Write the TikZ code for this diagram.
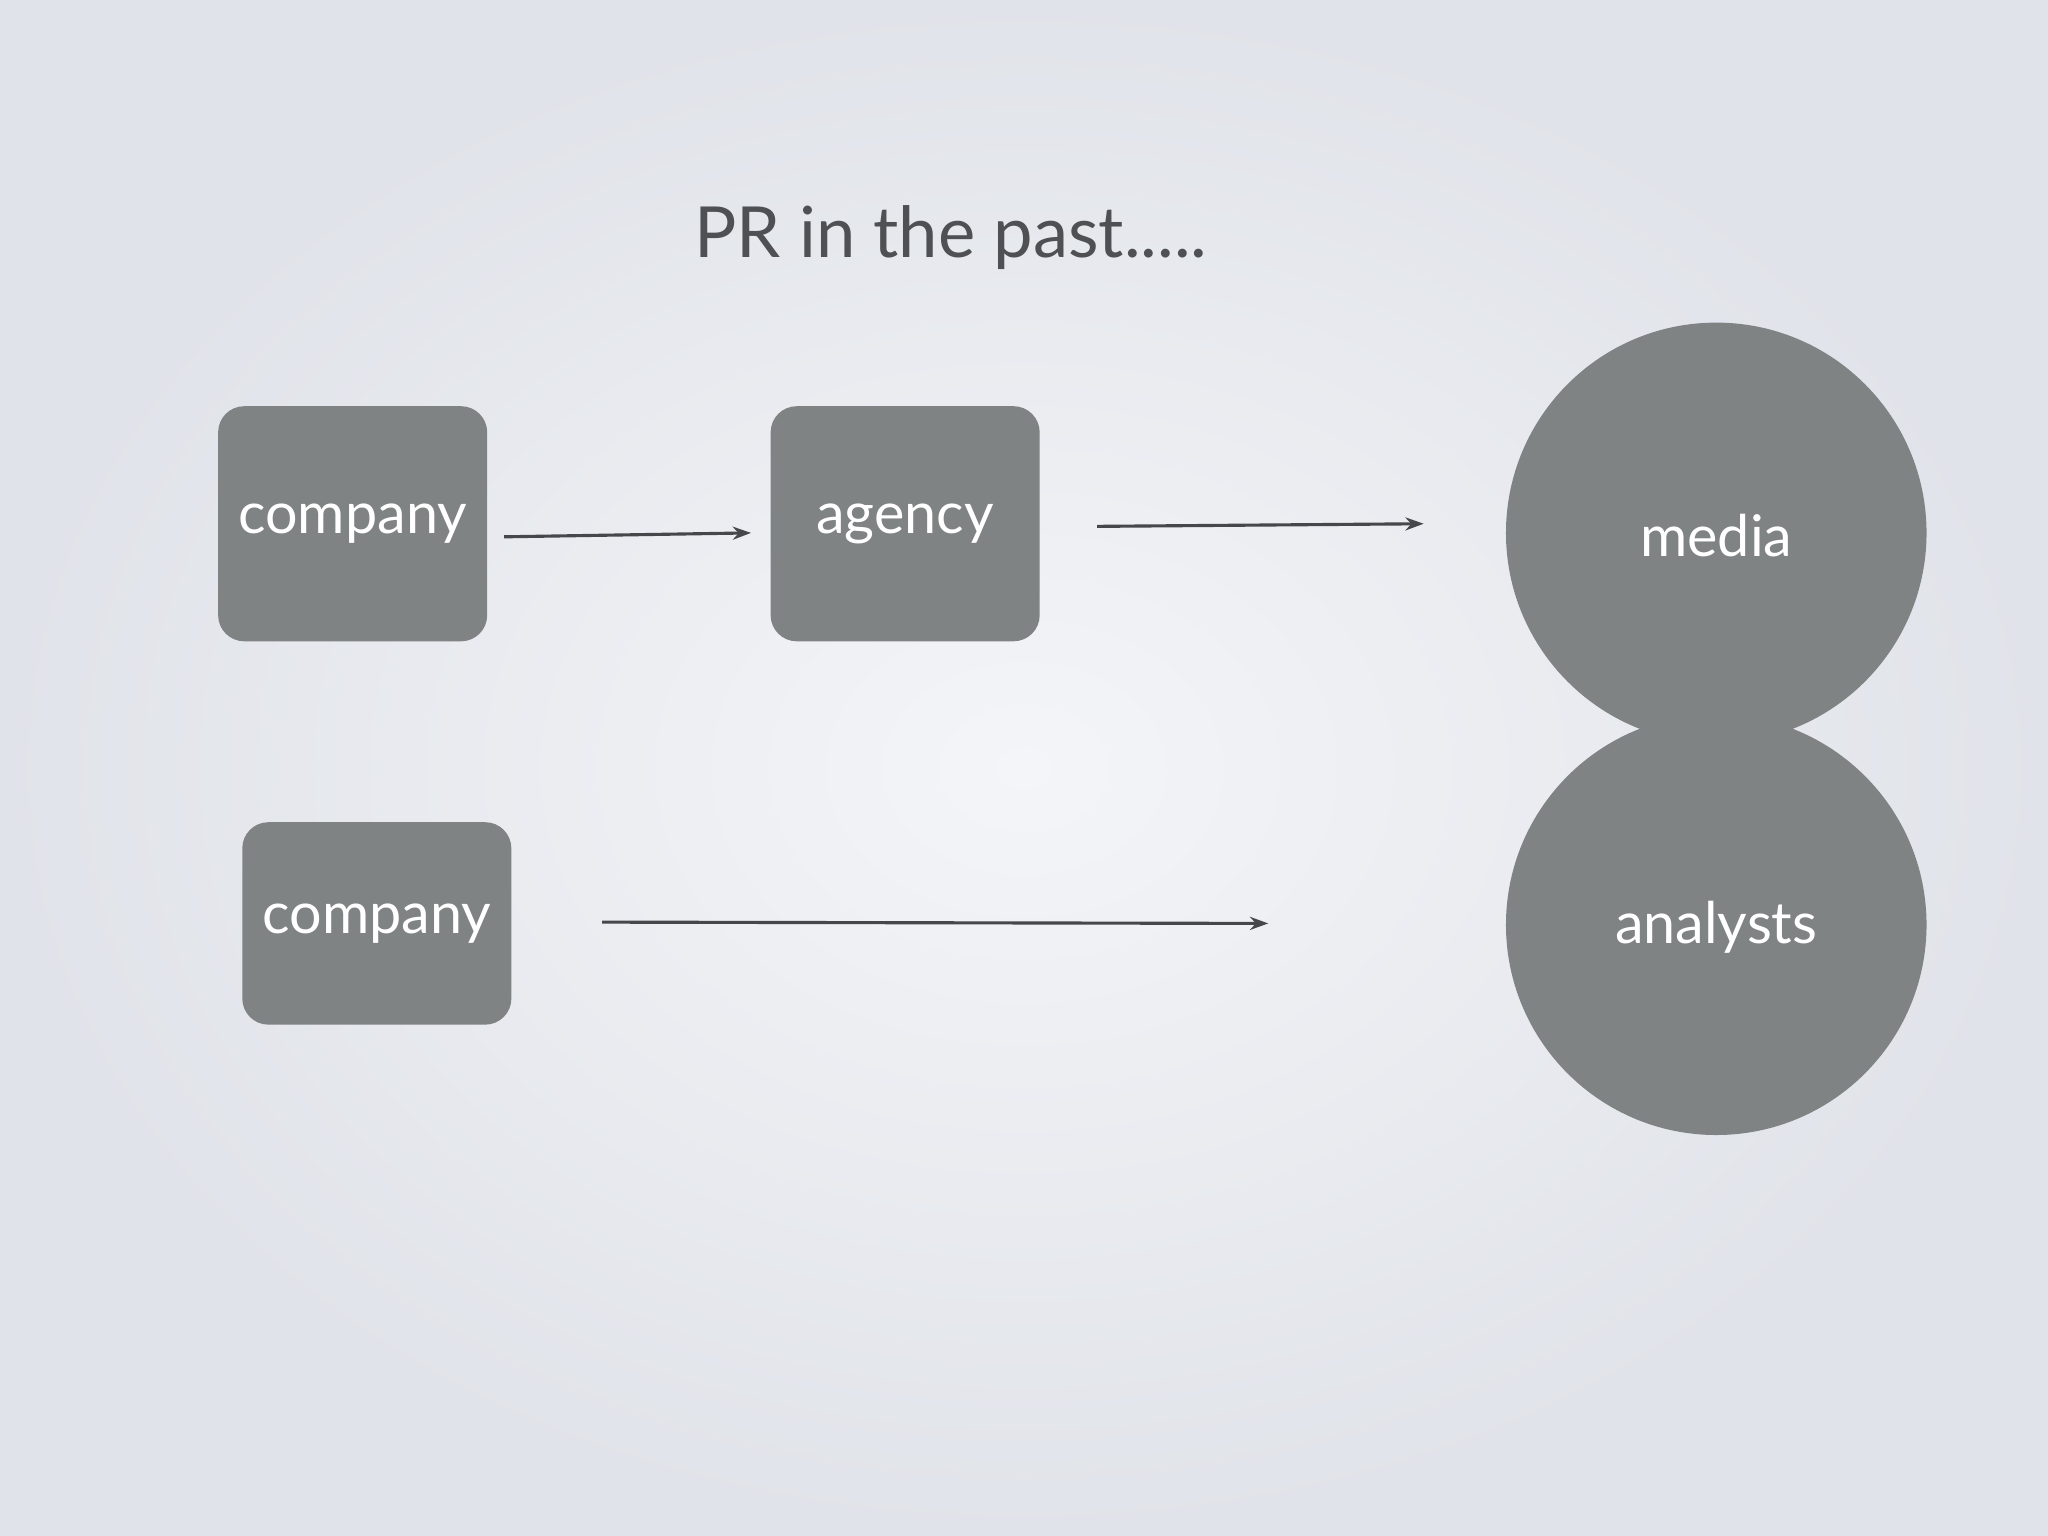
\documentclass[tikz,border=0pt]{standalone}
\usepackage{fontspec}
\setmainfont{Lato}
\usetikzlibrary{arrows.meta}
\definecolor{boxgray}{HTML}{808383}
\definecolor{arr}{HTML}{45474B}
\definecolor{bgout}{HTML}{E0E3E9}
\definecolor{bgin}{HTML}{F4F5F8}
\begin{document}
\begin{tikzpicture}[x=0.5pt,y=-0.5pt,
  rbox/.style={fill=boxgray,rounded corners=10pt,minimum width=103pt,inner sep=0pt,text=white,font=\fontsize{22}{26}\selectfont},
  circ/.style={circle,fill=boxgray,minimum size=161pt,inner sep=0pt},
  lbl/.style={text=white,font=\fontsize{22}{26}\selectfont},
  conn/.style={draw=arr,line width=1.2pt,-{Stealth[length=7pt,width=5pt]}}]
\shade[inner color=bgin,outer color=bgout] (0,0) rectangle (1568,1176);
\useasboundingbox (0,0) rectangle (1568,1176);
\node (title) at (728,182) {\fontsize{27}{32}\selectfont\color{arr!95}PR in the past.....};
\node[rbox,minimum height=90pt] (c1) at (270,401) {\raisebox{-5pt}{company}};
\node[rbox,minimum height=90pt] (ag) at (693,401) {\raisebox{-5pt}{agency}};
\node[rbox,minimum height=77.5pt] (c2) at (288.5,707) {\raisebox{-4pt}{company}};
\node[circ] (ana) at (1314,708) {};
\node[circ] (med) at (1314,408) {};
\node[lbl] (medt) at (1314,410) {media};
\node[lbl] (anat) at (1314,710) {analysts};
\coordinate (a1s) at (386,411); \coordinate (a1e) at (575,408);
\coordinate (a2s) at (840,403); \coordinate (a2e) at (1090,401);
\coordinate (a3s) at (461,706); \coordinate (a3e) at (971,707);
\draw[conn] (a1s) -- (a1e);
\draw[conn] (a2s) -- (a2e);
\draw[conn] (a3s) -- (a3e);
\end{tikzpicture}
\end{document}
